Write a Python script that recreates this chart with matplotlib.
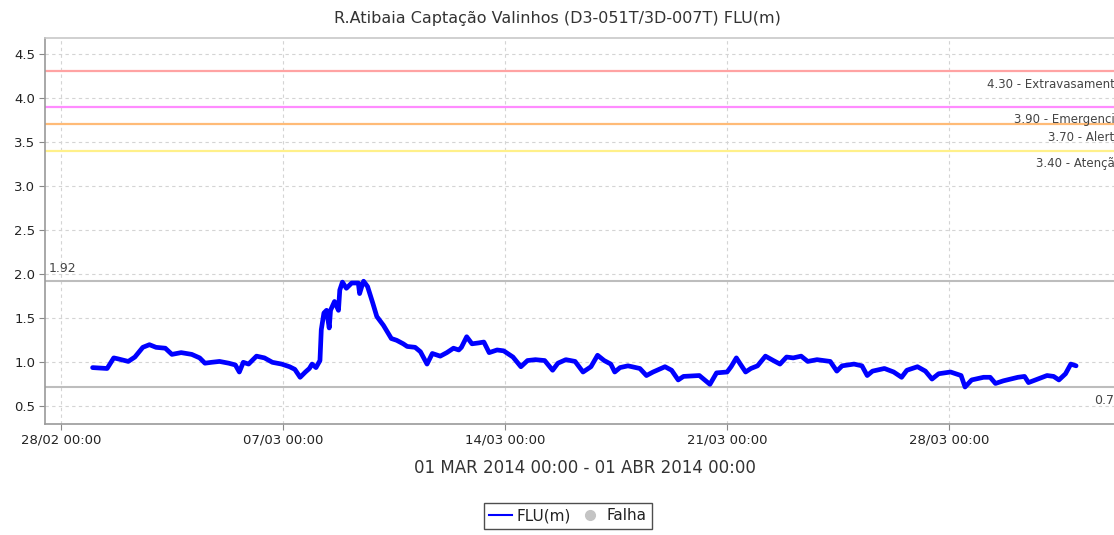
import matplotlib
matplotlib.use("Agg")
import matplotlib.pyplot as plt
import matplotlib.dates as mdates
from matplotlib.lines import Line2D
import pandas as pd

title = "R.Atibaia Captação Valinhos (D3-051T/3D-007T) FLU(m)"
period_label = "01 MAR 2014 00:00 - 01 ABR 2014 00:00"

hours = [0, 11, 16, 19, 27, 32, 38, 43, 48, 55, 60, 67, 75, 81, 85, 90, 96, 103, 108, 111,
         114, 118, 124, 130, 136, 143, 149, 153, 157, 161, 164, 166, 169, 172, 173, 175, 177, 179, 180, 183,
         186, 187, 189, 192, 196, 201, 202, 204, 205, 208, 212, 215, 220, 226, 230, 235, 238, 244, 248, 253,
         257, 263, 268, 273, 277, 279, 283, 287, 292, 296, 300, 306, 311, 318, 324, 329, 335, 342, 348, 352,
         358, 365, 371, 377, 382, 387, 392, 395, 399, 405, 414, 419, 424, 433, 438, 443, 447, 459, 467, 472,
         480, 483, 487, 490, 494, 498, 503, 509, 515, 520, 525, 530, 536, 541, 548, 558, 563, 567, 576, 582,
         586, 590, 599, 606, 612, 616, 624, 630, 635, 640, 649, 657, 660, 665, 674, 679, 683, 689, 700, 705,
         708, 715, 722, 727, 731, 736, 740, 744]
levels = [0.94, 0.93, 1.05, 1.04, 1.01, 1.06, 1.17, 1.20, 1.17, 1.16, 1.09, 1.11, 1.09, 1.05, 0.99, 1.00, 1.01, 0.99, 0.97, 0.89,
          1.00, 0.98, 1.07, 1.05, 1.00, 0.98, 0.95, 0.92, 0.83, 0.89, 0.93, 0.98, 0.94, 1.02, 1.37, 1.56, 1.59, 1.39, 1.59, 1.69,
          1.59, 1.82, 1.91, 1.84, 1.90, 1.90, 1.78, 1.88, 1.92, 1.86, 1.67, 1.52, 1.42, 1.27, 1.25, 1.21, 1.18, 1.17, 1.12, 0.98,
          1.10, 1.07, 1.11, 1.16, 1.14, 1.17, 1.29, 1.21, 1.22, 1.23, 1.11, 1.14, 1.13, 1.06, 0.95, 1.02, 1.03, 1.02, 0.91, 0.99,
          1.03, 1.01, 0.89, 0.95, 1.08, 1.02, 0.98, 0.89, 0.94, 0.96, 0.93, 0.85, 0.89, 0.95, 0.91, 0.80, 0.84, 0.85, 0.75, 0.88,
          0.89, 0.95, 1.05, 0.98, 0.89, 0.93, 0.96, 1.07, 1.02, 0.98, 1.06, 1.05, 1.07, 1.01, 1.03, 1.01, 0.90, 0.96, 0.98, 0.96,
          0.85, 0.90, 0.93, 0.89, 0.83, 0.91, 0.95, 0.90, 0.81, 0.87, 0.89, 0.85, 0.72, 0.80, 0.83, 0.83, 0.76, 0.79, 0.83, 0.84,
          0.77, 0.81, 0.85, 0.84, 0.80, 0.87, 0.98, 0.96]
assert len(hours) == len(levels)

threshold_values = [4.30, 3.90, 3.70, 3.40]
threshold_names = ["Extravasamento", "Emergencia", "Alerta", "Atenção"]
threshold_colors = ["#FFA3A3", "#FF8CFF", "#FFBB77", "#FFF08A"]

max_level = 1.92
min_level = 0.72

yticks = [0.5, 1.0, 1.5, 2.0, 2.5, 3.0, 3.5, 4.0, 4.5]
xtick_dates = ["2014-02-28", "2014-03-07", "2014-03-14", "2014-03-21", "2014-03-28"]

base = pd.Timestamp("2014-03-01")
times = base + pd.to_timedelta(hours, unit="h")

W, H = 1114, 535
fig = plt.figure(figsize=(W / 100, H / 100), dpi=100)
ax = fig.add_axes([45 / W, 1 - 424 / H, 1080 / W, 386 / H])

font = ["DejaVu Sans"]

ax.set_xlim(pd.Timestamp("2014-02-27 12:00"), pd.Timestamp("2014-04-02 13:00"))
ax.set_ylim(0.30, 4.68)

ax.set_yticks(yticks)
ax.set_yticklabels([f"{v:.1f}" for v in yticks])
ax.set_xticks(pd.to_datetime(xtick_dates))
ax.xaxis.set_major_formatter(mdates.DateFormatter("%d/%m %H:%M"))

ax.grid(True, color="#D4D4D4", linestyle=(0, (3, 3)), linewidth=0.8)
ax.set_axisbelow(True)
for side in ["left", "bottom", "top", "right"]:
    ax.spines[side].set_color("#9A9A9A")
    ax.spines[side].set_linewidth(1.2)
ax.spines["top"].set_color("#C8C8C8")
ax.tick_params(axis="both", direction="out", length=4, width=0.8, color="#888888",
               labelsize=9.5, labelcolor="#222222", pad=3)
for lbl in ax.get_xticklabels() + ax.get_yticklabels():
    lbl.set_fontfamily(font)

# threshold lines
for v, name, c in zip(threshold_values, threshold_names, threshold_colors):
    ax.axhline(v, color=c, linewidth=1.6, zorder=2)
    ax.annotate(f"{v:.2f} - {name}", xy=(1, v), xycoords=("axes fraction", "data"),
                xytext=(-3, -13), textcoords="offset pixels", ha="right", va="center",
                fontsize=8.5, color="#444444", family=font)

# max / min lines
ax.axhline(max_level, color="#BDBDBD", linewidth=1.5, zorder=2)
ax.axhline(min_level, color="#BDBDBD", linewidth=1.5, zorder=2)
ax.annotate(f"{max_level:.2f}", xy=(0, max_level), xycoords=("axes fraction", "data"),
            xytext=(4, 13), textcoords="offset pixels", ha="left", va="center",
            fontsize=9, color="#444444", family=font)
ax.annotate(f"{min_level:.2f}", xy=(1, min_level), xycoords=("axes fraction", "data"),
            xytext=(-3, -14), textcoords="offset pixels", ha="right", va="center",
            fontsize=9, color="#444444", family=font)

ax.plot(times, levels, color="#0000FF", linewidth=3.4, solid_joinstyle="round",
        solid_capstyle="round", zorder=3)

fig.text(0.5, 1 - 18 / H, title, ha="center", va="center", fontsize=11.5,
         color="#333333", family=font)
fig.text(585 / W, 1 - 468 / H, period_label, ha="center", va="center", fontsize=12,
         color="#333333", family=font)

handles = [Line2D([], [], color="#0000FF", linewidth=1.5),
           Line2D([], [], color="#C4C4C4", marker="o", linestyle="none", markersize=7)]
leg = fig.legend(handles, ["FLU(m)", "Falha"], loc="center", bbox_to_anchor=(568 / W, 1 - 516 / H),
                 ncol=2, frameon=True, fancybox=False, edgecolor="#222222", handlelength=1.5,
                 handletextpad=0.3, columnspacing=0.5, borderpad=0.35,
                 prop={"family": font, "size": 11})
leg.get_frame().set_linewidth(1.0)
for t in leg.get_texts():
    t.set_color("#222222")

fig.savefig("out.png", dpi=100)
